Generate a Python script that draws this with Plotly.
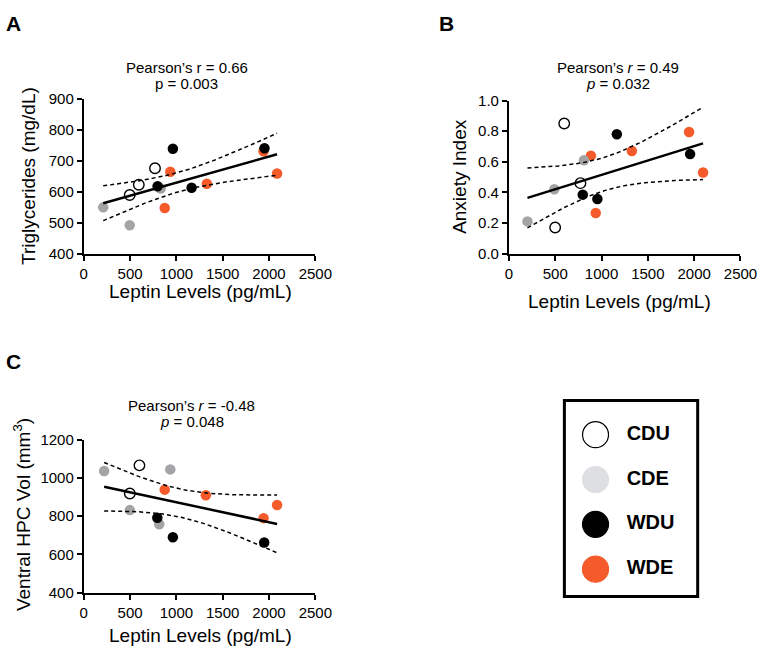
import numpy as np
import plotly.graph_objects as go

W, H = 775, 657

groups = ["CDU", "CDE", "WDU", "WDE"]

# ---- Panel A: Triglycerides vs Leptin ----
a_cdu_x = [496, 594, 769]
a_cdu_y = [589, 622, 675]
a_cde_x = [210, 496, 830]
a_cde_y = [549, 491, 610]
a_wdu_x = [797, 962, 1164, 1951]
a_wdu_y = [617, 738, 612, 740]
a_wde_x = [874, 934, 1329, 1941, 2087]
a_wde_y = [547, 664, 625, 730, 658]

# ---- Panel B: Anxiety Index vs Leptin ----
b_cdu_x = [597, 772, 499]
b_cdu_y = [0.85, 0.46, 0.17]
b_cde_x = [200, 490, 810]
b_cde_y = [0.21, 0.42, 0.61]
b_wdu_x = [797, 955, 1165, 1956]
b_wdu_y = [0.385, 0.356, 0.78, 0.65]
b_wde_x = [885, 937, 1327, 1945, 2096]
b_wde_y = [0.64, 0.265, 0.67, 0.795, 0.53]

# ---- Panel C: Ventral HPC volume vs Leptin ----
c_cdu_x = [601, 497]
c_cdu_y = [1065, 918]
c_cde_x = [220, 497, 815, 934]
c_cde_y = [1036, 831, 757, 1044]
c_wdu_x = [794, 962, 1948]
c_wdu_y = [791, 689, 662]
c_wde_x = [874, 1318, 1941, 2087]
c_wde_y = [938, 909, 789, 858]

titles_a = ["Pearson\u2019s r = 0.66", "p = 0.003"]
titles_b = ["Pearson\u2019s <i>r</i> = 0.49", "<i>p</i> = 0.032"]
titles_c = ["Pearson\u2019s <i>r</i> = -0.48", "<i>p</i> = 0.048"]

x_ticks = [0, 500, 1000, 1500, 2000, 2500]

COL = {"CDU": "white", "CDE": "#a4a4a7", "WDU": "black", "WDE": "#f45a2a"}
LEG_COL = {"CDU": "white", "CDE": "#dedfe2", "WDU": "black", "WDE": "#f45a2a"}

T95 = {10: 2.228, 11: 2.201, 12: 2.179, 13: 2.160, 14: 2.145, 15: 2.131, 16: 2.120, 17: 2.110}

FONT = "Liberation Sans, Arial, Helvetica, sans-serif"


def fit_band(x, y):
    x = np.asarray(x, float)
    y = np.asarray(y, float)
    n = len(x)
    b, a = np.polyfit(x, y, 1)
    xs = np.linspace(x.min(), x.max(), 80)
    yhat = a + b * xs
    resid = y - (a + b * x)
    s = np.sqrt(np.sum(resid ** 2) / (n - 2))
    sxx = np.sum((x - x.mean()) ** 2)
    half = T95[n - 2] * s * np.sqrt(1.0 / n + (xs - x.mean()) ** 2 / sxx)
    return xs, yhat, yhat - half, yhat + half


fig = go.Figure()

panels = [
    ("x", "y", {"CDU": (a_cdu_x, a_cdu_y), "CDE": (a_cde_x, a_cde_y),
                "WDU": (a_wdu_x, a_wdu_y), "WDE": (a_wde_x, a_wde_y)}),
    ("x2", "y2", {"CDU": (b_cdu_x, b_cdu_y), "CDE": (b_cde_x, b_cde_y),
                  "WDU": (b_wdu_x, b_wdu_y), "WDE": (b_wde_x, b_wde_y)}),
    ("x3", "y3", {"CDU": (c_cdu_x, c_cdu_y), "CDE": (c_cde_x, c_cde_y),
                  "WDU": (c_wdu_x, c_wdu_y), "WDE": (c_wde_x, c_wde_y)}),
]

draw_order = ["WDE", "CDE", "CDU", "WDU"]

for xa, ya, d in panels:
    for g in draw_order:
        gx, gy = d[g]
        fig.add_trace(go.Scatter(
            x=gx, y=gy, mode="markers", xaxis=xa, yaxis=ya, showlegend=False,
            marker=dict(size=10.5, color=COL[g],
                        line=dict(color="black" if g == "CDU" else COL[g],
                                  width=1.4 if g == "CDU" else 0)),
            hoverinfo="skip"))
    allx = sum((d[g][0] for g in groups), [])
    ally = sum((d[g][1] for g in groups), [])
    xs, yh, lo, hi = fit_band(allx, ally)
    for yy, dash, w in [(lo, "4px,3px", 1.5), (hi, "4px,3px", 1.5), (yh, "solid", 2.5)]:
        fig.add_trace(go.Scatter(x=xs, y=yy, mode="lines", xaxis=xa, yaxis=ya,
                                 showlegend=False, hoverinfo="skip",
                                 line=dict(color="black", width=w, dash=dash)))

# ---- legend drawn in its own hidden axes ----
fig.add_trace(go.Scatter(
    x=[0.2336] * 4, y=groups, mode="markers", xaxis="x4", yaxis="y4", showlegend=False,
    marker=dict(size=26, color=[LEG_COL[g] for g in groups],
                line=dict(color=["black" if g == "CDU" else LEG_COL[g] for g in groups],
                          width=1.2)),
    hoverinfo="skip"))
fig.add_trace(go.Scatter(
    x=[0.467] * 4, y=groups, mode="text", text=["<b>%s</b>" % g for g in groups],
    textposition="middle right", xaxis="x4", yaxis="y4", showlegend=False,
    textfont=dict(size=20, color="black", family=FONT), hoverinfo="skip"))


def px(v):
    return v / W


def py(v):
    return 1 - v / H


axis_common = dict(showline=True, linecolor="black", linewidth=2, ticks="outside",
                   ticklen=5, tickwidth=2, tickcolor="black", showgrid=False,
                   zeroline=False, tickfont=dict(size=15, family=FONT, color="black"),
                   fixedrange=True)

fig.update_layout(
    width=W, height=H, margin=dict(l=0, r=0, t=0, b=0),
    paper_bgcolor="white", plot_bgcolor="white",
    font=dict(family=FONT, color="black"),
    xaxis=dict(domain=[px(82), px(320)], range=[0, 2500], tickvals=x_ticks,
               anchor="y", **axis_common),
    yaxis=dict(domain=[py(251), py(92)], range=[400, 900], dtick=100,
               anchor="x", **axis_common),
    xaxis2=dict(domain=[px(519), px(757)], range=[0, 2500], tickvals=x_ticks,
                anchor="y2", **axis_common),
    yaxis2=dict(domain=[py(251), py(94)], range=[0, 1.0], dtick=0.2, tickformat=".1f",
                anchor="x2", **axis_common),
    xaxis3=dict(domain=[px(82), px(320)], range=[0, 2500], tickvals=x_ticks,
                anchor="y3", **axis_common),
    yaxis3=dict(domain=[py(599), py(442)], range=[400, 1200], dtick=200,
                anchor="x3", **axis_common),
    xaxis4=dict(domain=[px(576), px(713)], range=[0, 1], visible=False,
                anchor="y4", fixedrange=True),
    yaxis4=dict(domain=[py(604), py(401)], range=[3.630, -0.783], visible=False,
                type="category", categoryorder="array", categoryarray=groups,
                anchor="x4", fixedrange=True),
)

fig.add_shape(type="rect", xref="paper", yref="paper",
              x0=px(576), x1=px(713), y0=py(603), y1=py(402),
              line=dict(color="black", width=3), fillcolor="rgba(0,0,0,0)")

ann = []


def text(x, y, s, size, angle=0, bold=False):
    ann.append(dict(x=px(x), y=py(y), xref="paper", yref="paper", text=("<b>%s</b>" % s) if bold else s,
                    showarrow=False, xanchor="center", yanchor="middle", textangle=angle,
                    font=dict(size=size, family=FONT, color="black")))


# panel letters
text(10, 15, "A", 21, bold=True)
text(455, 15, "B", 21, bold=True)
text(10, 362, "C", 21, bold=True)

# stats titles
text(188, 60, titles_a[0], 15)
text(188, 76, titles_a[1], 15)
text(631, 60, titles_b[0], 15)
text(631, 76, titles_b[1], 15)
text(193, 407, titles_c[0], 15)
text(193, 423, titles_c[1], 15)

# axis titles
text(202, 290, "Leptin Levels (pg/mL)", 19)
text(633, 300, "Leptin Levels (pg/mL)", 19)
text(202, 643, "Leptin Levels (pg/mL)", 19)
text(25, 171, "Triglycerides (mg/dL)", 19, angle=-90)
text(468, 172, "Anxiety Index", 19, angle=-90)
text(18, 519, "Ventral HPC Vol (mm<sup>3</sup>)", 19, angle=-90)

fig.update_layout(annotations=ann)

fig.write_html("out.html", config={"displayModeBar": False},
               post_script="document.body.style.margin='0';")
